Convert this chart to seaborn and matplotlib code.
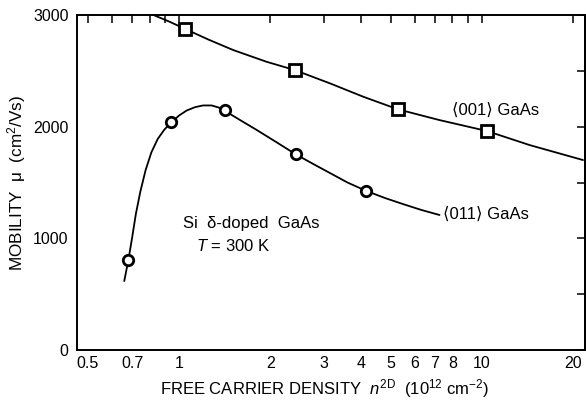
import numpy as np
import pandas as pd
import matplotlib
matplotlib.use("Agg")
import matplotlib.pyplot as plt
from matplotlib.ticker import FixedLocator, NullFormatter, FixedFormatter
import seaborn as sns

# ---- data ----
# <001> GaAs measured points (squares)
n001 = [1.05, 2.41, 5.29, 10.4]
mu001 = [2875, 2510, 2158, 1965]
# <001> drawn curve
n001_curve = [0.823, 0.93, 1.055, 1.25, 1.51, 1.946, 2.41, 3.15, 4.06, 5.29, 7.25, 10.4, 14.4, 21.6]
mu001_curve = [3000, 2940, 2871, 2780, 2686, 2581, 2507, 2388, 2268, 2155, 2059, 1961, 1835, 1701]

# <011> GaAs measured points (circles)
n011 = [0.68, 0.94, 1.42, 2.43, 4.14]
mu011 = [810, 2040, 2145, 1752, 1428]
# <011> drawn curve
n011_curve = [0.659, 0.68, 0.70, 0.72, 0.745, 0.775, 0.81, 0.85, 0.895, 0.94, 1.0, 1.06,
              1.13, 1.2, 1.28, 1.35, 1.42, 1.6, 1.806, 2.1, 2.43, 2.8, 3.15, 3.6, 4.14,
              4.8, 5.49, 6.3, 7.25]
mu011_curve = [618, 806, 1010, 1220, 1420, 1610, 1770, 1890, 1975, 2035, 2100, 2145,
               2175, 2190, 2190, 2172, 2140, 2055, 1970, 1860, 1752, 1660, 1585, 1500, 1426,
               1360, 1307, 1255, 1209]

x_major = [0.5, 0.7, 1, 2, 3, 4, 5, 6, 7, 8, 10, 20]
x_major_labels = ["0.5", "0.7", "1", "2", "3", "4", "5", "6", "7", "8", "10", "20"]
x_minor = [0.6, 0.8, 0.9, 9]
y_major = [0, 1000, 2000, 3000]
y_minor = [500, 1500, 2500]

sns.set_style("white")
plt.rcParams["font.family"] = ["Liberation Sans", "DejaVu Sans"]
plt.rcParams["mathtext.fontset"] = "custom"
plt.rcParams["mathtext.rm"] = "Liberation Sans"
plt.rcParams["mathtext.it"] = "Liberation Sans:italic"
for k in ["text.color", "axes.labelcolor", "xtick.color", "ytick.color", "axes.edgecolor"]:
    plt.rcParams[k] = "black"

fig = plt.figure(figsize=(5.86, 4.0), dpi=100)
ax = fig.add_axes([0.1314, 0.125, 0.8666, 0.8375])

c001 = pd.DataFrame({"n": n001_curve, "mu": mu001_curve})
c011 = pd.DataFrame({"n": n011_curve, "mu": mu011_curve})
p001 = pd.DataFrame({"n": n001, "mu": mu001})
p011 = pd.DataFrame({"n": n011, "mu": mu011})

sns.lineplot(data=c001, x="n", y="mu", ax=ax, color="black", lw=1.3, sort=False, estimator=None)
sns.lineplot(data=c011, x="n", y="mu", ax=ax, color="black", lw=1.3, sort=False, estimator=None)
ax.plot(p001["n"], p001["mu"], ls="none", marker="s", ms=8, mfc="white", mec="black", mew=2.0)
ax.plot(p011["n"], p011["mu"], ls="none", marker="o", ms=7.5, mfc="white", mec="black", mew=2.0)

ax.set_xscale("log")
ax.set_xlim(0.46, 21.9)
ax.set_ylim(0, 3000)

ax.xaxis.set_major_locator(FixedLocator(x_major))
ax.xaxis.set_major_formatter(FixedFormatter(x_major_labels))
ax.xaxis.set_minor_locator(FixedLocator(x_minor))
ax.xaxis.set_minor_formatter(NullFormatter())
ax.yaxis.set_major_locator(FixedLocator(y_major))
ax.yaxis.set_minor_locator(FixedLocator(y_minor))

for s in ax.spines.values():
    s.set_linewidth(1.4)
    s.set_color("black")

ax.tick_params(axis="x", which="both", direction="in", length=6, width=1.1, labelsize=11.5, pad=4)
ax.tick_params(axis="y", which="major", direction="out", length=4, width=1.1, labelsize=11.5, pad=2)
ax.tick_params(axis="y", which="minor", direction="in", length=8, width=1.1)
ax.tick_params(axis="x", which="both", top=True, direction="in")

secy = ax.secondary_yaxis("right")
secy.yaxis.set_major_locator(FixedLocator(y_major + y_minor))
secy.tick_params(direction="in", length=6, width=1.1, labelright=False)
secy.spines["right"].set_linewidth(1.4)

ax.set_xlabel(r"FREE CARRIER DENSITY  $n^{\mathrm{2D}}$  (10$^{12}$ cm$^{-2}$)", fontsize=12)
ax.set_ylabel(r"MOBILITY  μ  (cm$^2$/Vs)", fontsize=12.3)
ax.xaxis.set_label_coords(0.488, -0.080)
ax.yaxis.set_label_coords(-0.097, 0.5)

ax.text(8.0, 2150, "⟨001⟩ GaAs", fontsize=12, va="center", ha="left")
ax.text(7.45, 1215, "⟨011⟩ GaAs", fontsize=12, va="center", ha="left")
ax.text(1.03, 1137, "Si  δ-doped  GaAs", fontsize=12, va="center", ha="left")
ax.text(1.14, 935, r"$T$ = 300 K", fontsize=12, va="center", ha="left")

fig.savefig("out.png", dpi=100)
